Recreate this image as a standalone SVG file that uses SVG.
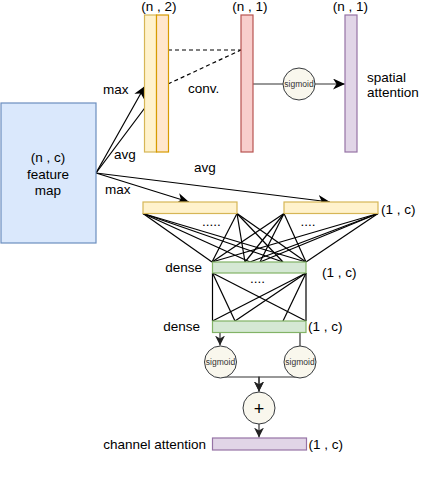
<svg xmlns="http://www.w3.org/2000/svg" width="440" height="486" viewBox="0 0 440 486">
<defs>
<style>
text{font-family:"Liberation Sans",Arial,sans-serif;font-size:13.5px;fill:#000}
.s{font-size:8.5px;fill:#333}
.ln{stroke:#000;stroke-width:1.2;fill:none}
.dk{stroke:#333;stroke-width:1.2;fill:none}
.c{fill:#f9f7ed;stroke:#36393d;stroke-width:1}
</style>
<marker id="a" markerUnits="userSpaceOnUse" markerWidth="13" markerHeight="11" refX="12" refY="5.5" orient="auto">
<path d="M0,0 L12,5.5 L0,11 L3.5,5.5 Z" fill="#000"/>
</marker>
<marker id="b" markerUnits="userSpaceOnUse" markerWidth="11" markerHeight="10" refX="10" refY="5" orient="auto">
<path d="M0,0 L10,5 L0,10 L3,5 Z" fill="#222"/>
</marker>
</defs>
<rect width="440" height="486" fill="#fff"/>

<g id="connectors">
<line class="ln" x1="96" y1="173" x2="145" y2="86" marker-end="url(#a)"/>
<line class="ln" x1="96" y1="173" x2="156" y2="93" marker-end="url(#a)"/>
<line class="ln" x1="96" y1="173" x2="189" y2="202" marker-end="url(#a)"/>
<line class="ln" x1="96" y1="173" x2="330" y2="202" marker-end="url(#a)"/>
<line class="ln" x1="168" y1="50" x2="241" y2="50" stroke-dasharray="4 3"/>
<line class="ln" x1="168" y1="84" x2="241" y2="50" stroke-dasharray="4 3"/>
<line class="dk" x1="253" y1="84" x2="345" y2="84" marker-end="url(#a)"/>
<g class="ln">
<line x1="143" y1="213.5" x2="212" y2="262"/>
<line x1="143" y1="213.5" x2="250" y2="262"/>
<line x1="143" y1="213.5" x2="283" y2="262"/>
<line x1="143" y1="213.5" x2="306" y2="262"/>
<line x1="237" y1="213.5" x2="212" y2="262"/>
<line x1="237" y1="213.5" x2="245" y2="262"/>
<line x1="237" y1="213.5" x2="283" y2="262"/>
<line x1="237" y1="213.5" x2="306" y2="262"/>
<line x1="284" y1="213.5" x2="212" y2="262"/>
<line x1="284" y1="213.5" x2="245" y2="262"/>
<line x1="284" y1="213.5" x2="260" y2="262"/>
<line x1="284" y1="213.5" x2="306" y2="262"/>
<line x1="378" y1="213.5" x2="212" y2="262"/>
<line x1="378" y1="213.5" x2="250" y2="262"/>
<line x1="378" y1="213.5" x2="260" y2="262"/>
<line x1="378" y1="213.5" x2="306" y2="262"/>
</g>
<g class="ln">
<line x1="212.5" y1="273" x2="212.5" y2="321"/>
<line x1="212.5" y1="273" x2="235" y2="321"/>
<line x1="212.5" y1="273" x2="306" y2="321"/>
<line x1="306" y1="273" x2="306" y2="321"/>
<line x1="306" y1="273" x2="212.5" y2="321"/>
<line x1="306" y1="273" x2="235" y2="321"/>
<line x1="306" y1="273" x2="283" y2="321"/>
</g>
<line class="dk" x1="220" y1="333" x2="220" y2="345.5" marker-end="url(#b)"/>
<line class="dk" x1="300" y1="333" x2="300" y2="346"/>
<path class="dk" d="M223,377 H259 V391.5" marker-end="url(#b)"/>
<path class="dk" d="M297,377 H259 V391.5" marker-end="url(#b)"/>
<line class="dk" x1="259" y1="424" x2="259" y2="437.5" marker-end="url(#b)"/>
</g>

<g id="feature-map">
<rect x="1" y="103" width="95" height="140" fill="#dae8fc" stroke="#6c8ebf" stroke-width="1.2"/>
<text x="48" y="162" text-anchor="middle">(n , c)</text>
<text x="48" y="178.5" text-anchor="middle">feature</text>
<text x="48" y="195" text-anchor="middle">map</text>
</g>

<g id="max-pool-spatial">
<rect x="144.5" y="15" width="12" height="137" fill="#fff2cc" stroke="#d6b656" stroke-width="1.2"/>
</g>
<g id="avg-pool-spatial">
<rect x="156.5" y="15" width="12" height="137" fill="#ffe6cc" stroke="#d79b00" stroke-width="1.2"/>
<text x="159" y="11" text-anchor="middle">(n , 2)</text>
</g>

<g id="conv-out">
<rect x="241" y="15" width="12" height="137" fill="#f8cecc" stroke="#b85450" stroke-width="1.2"/>
<text x="250" y="11" text-anchor="middle">(n , 1)</text>
</g>

<g id="spatial-attention">
<rect x="345" y="15" width="12" height="137" fill="#e1d5e7" stroke="#9673a6" stroke-width="1.2"/>
<text x="350.5" y="11" text-anchor="middle">(n , 1)</text>
<text x="367" y="82">spatial</text>
<text x="367" y="97">attention</text>
</g>

<g id="sigmoid-spatial">
<circle class="c" cx="299" cy="84" r="16"/>
<text class="s" x="299" y="87" text-anchor="middle">sigmoid</text>
</g>

<g id="labels">
<text x="103" y="94">max</text>
<text x="114" y="159">avg</text>
<text x="105" y="194">max</text>
<text x="194" y="172">avg</text>
<text x="188" y="93">conv.</text>
</g>

<g id="max-pool-channel">
<rect x="143" y="202" width="94" height="11.5" fill="#fff2cc" stroke="#d6b656" stroke-width="1.2"/>
<text x="202" y="225.5">.....</text>
</g>
<g id="avg-pool-channel">
<rect x="284" y="202" width="94" height="11.5" fill="#fff2cc" stroke="#d6b656" stroke-width="1.2"/>
<text x="300.5" y="225.5">....</text>
<text x="381" y="214">(1 , c)</text>
</g>

<g id="dense1">
<rect x="212.5" y="262" width="93.5" height="11" fill="#d5e8d4" stroke="#82b366" stroke-width="1.2"/>
<text x="202" y="271.5" text-anchor="end">dense</text>
<text x="322" y="277">(1 , c)</text>
<text x="250" y="283">....</text>
</g>

<g id="dense2">
<rect x="212.5" y="321" width="93.5" height="11.5" fill="#d5e8d4" stroke="#82b366" stroke-width="1.2"/>
<text x="200" y="330.5" text-anchor="end">dense</text>
<text x="308" y="330.5">(1 , c)</text>
</g>

<g id="sigmoid-1">
<circle class="c" cx="220.5" cy="362" r="16"/>
<text class="s" x="220.5" y="365" text-anchor="middle">sigmoid</text>
</g>
<g id="sigmoid-2">
<circle class="c" cx="300" cy="362" r="16"/>
<text class="s" x="300" y="365" text-anchor="middle">sigmoid</text>
</g>

<g id="plus">
<circle class="c" cx="259" cy="408" r="16"/>
<text x="259" y="414.5" text-anchor="middle" style="font-size:18px">+</text>
</g>

<g id="channel-attention">
<rect x="212.5" y="438" width="94" height="12" fill="#e1d5e7" stroke="#9673a6" stroke-width="1.2"/>
<text x="206" y="449" text-anchor="end">channel attention</text>
<text x="308.5" y="449">(1 , c)</text>
</g>
</svg>
